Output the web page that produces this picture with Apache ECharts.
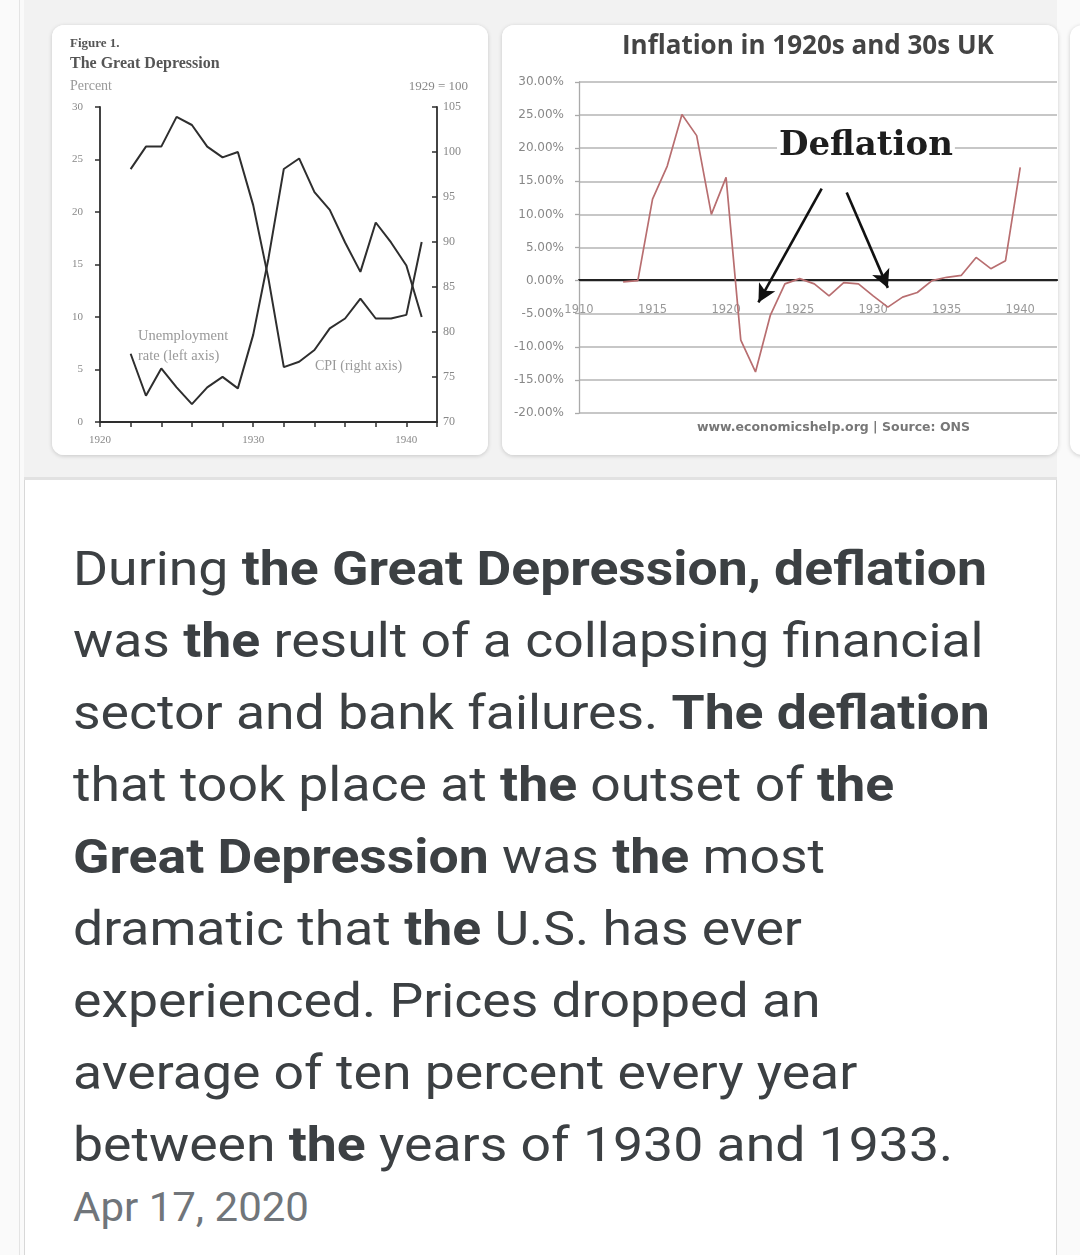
<!DOCTYPE html>
<html>
<head>
<meta charset="utf-8">
<script src="https://cdn.jsdelivr.net/npm/echarts@6/dist/echarts.min.js"></script>
<style>
  html,body{margin:0;padding:0;}
  body{width:1080px;height:1255px;position:relative;overflow:hidden;background:#fafafa;font-family:Roboto,"Noto Sans",sans-serif;}
  #edge{position:absolute;left:19px;top:0;width:1px;height:1255px;background:#e4e4e4;}
  #card{position:absolute;left:24px;top:0;width:1031px;height:1255px;background:#fff;border-left:1px solid #d8d8d8;border-right:1px solid #d8d8d8;}
  #strip{position:absolute;left:24px;top:0;width:1033px;height:477px;background:#f2f2f2;border-bottom:3px solid #e2e2e2;}
  .thumb{position:absolute;background:#fff;border-radius:12px;box-shadow:0 1px 4px rgba(0,0,0,0.18);overflow:hidden;}
  #snippet{position:absolute;left:73px;top:533px;font-size:48px;line-height:72px;color:#3c4043;white-space:nowrap;transform:scaleX(1.115);transform-origin:0 0;}
  #snippet b{font-weight:700;color:#3c4043;}
  #date{position:absolute;left:73px;top:1184px;font-size:40px;line-height:48px;color:#70757a;white-space:nowrap;transform:scaleX(1.05);transform-origin:0 0;}
</style>
</head>
<body>
<div id="edge"></div>
<div id="card"></div>
<div id="strip"></div>
<div class="thumb" id="leftCard" style="left:52px;top:25px;width:436px;height:430px;"></div>
<div class="thumb" id="rightCard" style="left:502px;top:25px;width:556px;height:430px;"></div>
<div class="thumb" style="left:1070px;top:25px;width:60px;height:430px;"></div>

<div id="snippet">
During <b>the Great Depression, deflation</b><br>
was <b>the</b> result of a collapsing financial<br>
sector and bank failures. <b>The deflation</b><br>
that took place at <b>the</b> outset of <b>the</b><br>
<b>Great Depression</b> was <b>the</b> most<br>
dramatic that <b>the</b> U.S. has ever<br>
experienced. Prices dropped an<br>
average of ten percent every year<br>
between <b>the</b> years of 1930 and 1933.
</div>
<div id="date">Apr 17, 2020</div>

<script>
// ---------- Left chart data (US, "Figure 1. The Great Depression") ----------
const usYears = [1922,1923,1924,1925,1926,1927,1928,1929,1930,1931,1932,1933,1934,1935,1936,1937,1938,1939,1940,1941];
const unemploymentRate = [6.5,2.5,5.1,3.3,1.7,3.3,4.3,3.2,8.3,15.6,24.1,25.1,21.9,20.2,17.1,14.3,19.0,17.1,14.9,10.0];
const cpiIndex = [98.1,100.6,100.6,103.9,103.0,100.6,99.4,100.0,94.1,85.9,76.1,76.7,78.0,80.4,81.5,83.7,81.5,81.5,81.9,90.0];
const usXTickLabels = [1920,1930,1940];

// ---------- Right chart data (UK inflation) ----------
const ukYears = [1913,1914,1915,1916,1917,1918,1919,1920,1921,1922,1923,1924,1925,1926,1927,1928,1929,1930,1931,1932,1933,1934,1935,1936,1937,1938,1939,1940];
const ukInflation = [-0.2,0.0,12.3,17.3,25.1,21.9,10.0,15.6,-9.0,-13.8,-5.3,-0.5,0.3,-0.5,-2.3,-0.3,-0.5,-2.3,-4.0,-2.5,-1.8,0.0,0.5,0.8,3.5,1.8,3.0,17.1];
const ukXTickLabels = [1910,1915,1920,1925,1930,1935,1940];
const deflationArrows = [
  [[1926.5,13.9],[1922.2,-3.3]],
  [[1928.2,13.3],[1931.0,-1.1]]
];

const serif = '"Liberation Serif","DejaVu Serif",serif';

// ================= LEFT CHART =================
const leftChart = echarts.init(document.getElementById('leftCard'), null, {renderer:'canvas'});
const lineCol = '#2e2e2e';
leftChart.setOption({
  animation:false,
  backgroundColor:'#fff',
  grid:{left:48, top:82, width:337, height:315},
  xAxis:{
    type:'value', min:1920, max:1942, interval:2,
    axisLine:{show:true, lineStyle:{color:lineCol, width:1.8}},
    axisTick:{show:true, length:5, lineStyle:{color:lineCol, width:1.5}},
    splitLine:{show:false},
    axisLabel:{margin:13, fontFamily:serif, fontSize:11, color:'#888',
      formatter:v => usXTickLabels.includes(v) ? String(v) : ''}
  },
  yAxis:[
    {type:'value', min:0, max:30, interval:5, position:'left',
     axisLine:{show:true, lineStyle:{color:lineCol, width:1.8}},
     axisTick:{show:true, length:5, lineStyle:{color:lineCol, width:1.5}},
     splitLine:{show:false},
     axisLabel:{margin:17, fontFamily:serif, fontSize:11, color:'#888'}},
    {type:'value', min:70, max:105, interval:5, position:'right',
     axisLine:{show:true, lineStyle:{color:lineCol, width:1.8}},
     axisTick:{show:true, inside:true, length:5, lineStyle:{color:lineCol, width:1.5}},
     splitLine:{show:false},
     axisLabel:{margin:6, fontFamily:serif, fontSize:12, color:'#888'}}
  ],
  series:[
    {name:'Unemployment rate (left axis)', type:'line', yAxisIndex:0,
     data:usYears.map((y,i)=>[y, unemploymentRate[i]]),
     showSymbol:false, lineStyle:{color:lineCol, width:2}},
    {name:'CPI (right axis)', type:'line', yAxisIndex:1,
     data:usYears.map((y,i)=>[y, cpiIndex[i]]),
     showSymbol:false, lineStyle:{color:lineCol, width:2}}
  ],
  graphic:[
    {type:'text', left:18, top:12, style:{text:'Figure 1.', font:'bold 13px '+serif, fill:'#555'}},
    {type:'text', left:18, top:31, style:{text:'The Great Depression', font:'bold 16px '+serif, fill:'#555'}},
    {type:'text', left:18, top:54, style:{text:'Percent', font:'14px '+serif, fill:'#999'}},
    {type:'text', right:20, top:55, style:{text:'1929 = 100', font:'13px '+serif, fill:'#888'}},
    {type:'text', left:86, top:301, style:{text:'Unemployment\nrate (left axis)', font:'14.5px '+serif, fill:'#999', lineHeight:20}},
    {type:'text', left:263, top:334, style:{text:'CPI (right axis)', font:'14px '+serif, fill:'#999'}}
  ]
});

// ================= RIGHT CHART =================
const rightChart = echarts.init(document.getElementById('rightCard'), null, {renderer:'canvas'});
rightChart.setOption({
  animation:false,
  backgroundColor:'#fff',
  grid:{left:77, top:57, width:478, height:331},
  xAxis:{
    type:'value', min:1910, max:1942.5, interval:5,
    position:'bottom', offset:-133,
    axisLine:{show:true, onZero:false, lineStyle:{color:'#222', width:2.2}},
    axisTick:{show:false},
    splitLine:{show:false},
    axisLabel:{margin:24, fontFamily:'"DejaVu Sans",sans-serif', fontSize:11.5, color:'#999',
      showMaxLabel:false,
      formatter:v => ukXTickLabels.includes(v) ? String(v) : ''}
  },
  yAxis:{
    type:'value', min:-20, max:30, interval:5,
    axisLine:{show:true, lineStyle:{color:'#aaa', width:1.3}},
    axisTick:{show:true, length:4, lineStyle:{color:'#aaa', width:1.3}},
    splitLine:{show:true, lineStyle:{color:'#b4b4b4', width:1.6}},
    axisLabel:{margin:15, fontFamily:'"DejaVu Sans",sans-serif', fontSize:12, color:'#888',
      formatter:v => v.toFixed(2)+'%'}
  },
  series:[
    {name:'UK inflation', type:'line',
     data:ukYears.map((y,i)=>[y, ukInflation[i]]),
     showSymbol:false, lineStyle:{color:'#b86e70', width:1.7},
     markLine:{
       silent:true, symbol:['none','arrow'], symbolSize:[14,18], animation:false,
       label:{show:false},
       lineStyle:{color:'#111', width:2.6, type:'solid'},
       data:deflationArrows.map(a => [{coord:a[0]},{coord:a[1]}])
     }}
  ],
  graphic:[
    {type:'text', left:120, top:9, style:{text:'Inflation in 1920s and 30s UK', font:'bold 26px "Open Sans","DejaVu Sans",sans-serif', fill:'#444'}},
    {type:'text', left:275, top:104, z:10, style:{text:'Deflation', font:'bold 34px "DejaVu Serif",serif', fill:'#1e1e1e', backgroundColor:'#fff', padding:[0,2,0,2]}},
    {type:'text', left:195, top:396, style:{text:'www.economicshelp.org | Source: ONS', font:'bold 12.5px "DejaVu Sans",sans-serif', fill:'#777'}}
  ]
});
</script>
</body>
</html>
